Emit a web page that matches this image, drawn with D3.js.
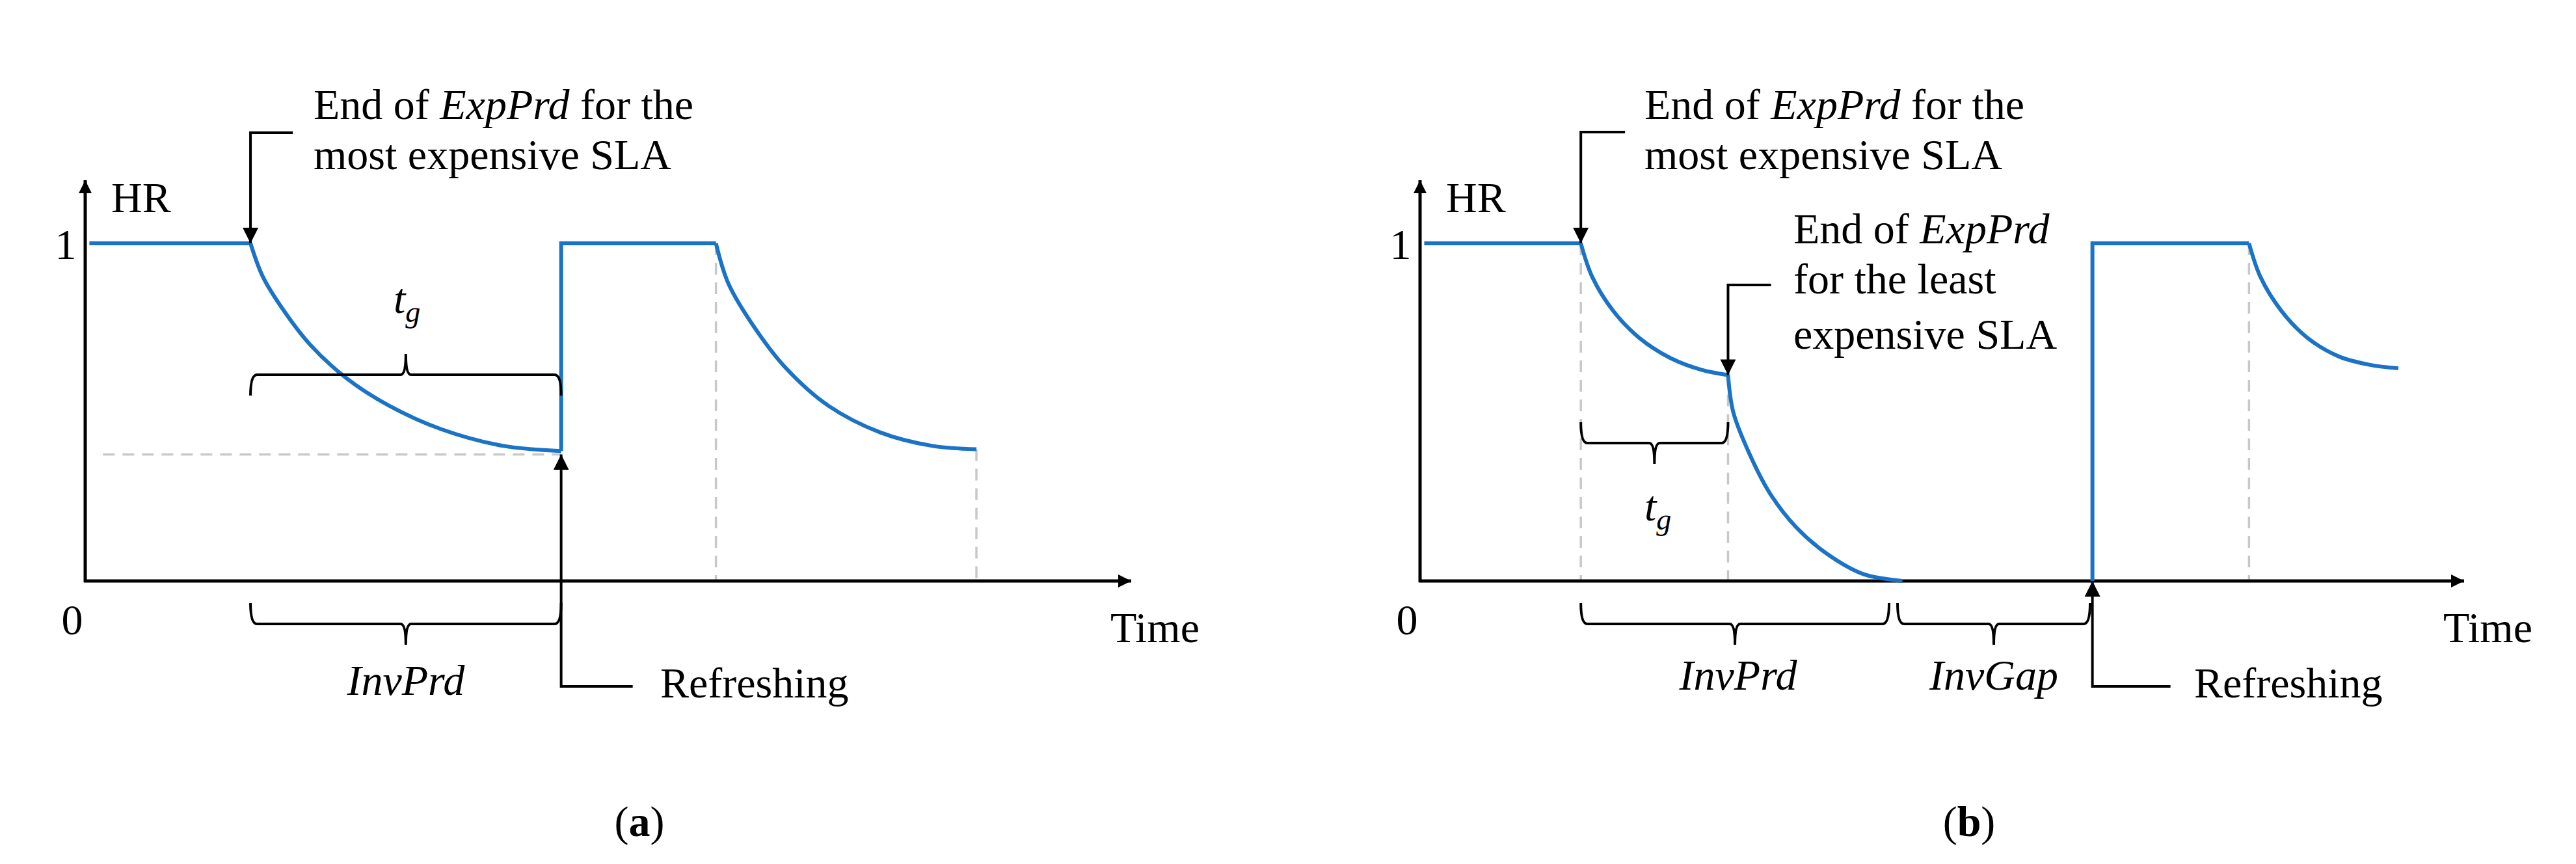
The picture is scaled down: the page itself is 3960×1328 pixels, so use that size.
<!DOCTYPE html>
<html><head><meta charset="utf-8">
<script src="https://cdn.jsdelivr.net/npm/d3@7"></script>
<style>body{margin:0;background:#fff}text{font-family:"Liberation Serif","Times New Roman",serif;fill:#000}</style>
</head><body><svg id="c" width="3960" height="1328"></svg>
<script>
// time in arbitrary units 0..100 per panel, HR 0..1
const segmentsA = [
  [[0.4, 1], [15.8, 1]],
  [[15.8, 1], [17, 0.9], [19, 0.8], [21.5, 0.7], [25, 0.6], [29, 0.52], [34, 0.45], [40, 0.4], [45.5, 0.385]],
  [[45.5, 0.385], [45.5, 1], [60.3, 1]],
  [[60.3, 1], [61.5, 0.88], [64, 0.75], [67, 0.63], [71, 0.52], [76, 0.44], [81, 0.4], [85.2, 0.39]]
];
const segmentsB = [
  [[0.4, 1], [15.4, 1]],
  [[15.4, 1], [16.5, 0.9], [18.5, 0.8], [21, 0.72], [24, 0.66], [27, 0.625], [29.5, 0.61]],
  [[29.5, 0.61], [30, 0.5], [31.5, 0.38], [33.5, 0.26], [36, 0.16], [39, 0.08], [42.5, 0.02], [46.2, 0]],
  [[64.4, 0], [64.4, 1], [79.4, 1]],
  [[79.4, 1], [80.5, 0.9], [82.5, 0.8], [85, 0.72], [88, 0.665], [91, 0.64], [93.7, 0.63]]
];
const guidesA = [[15.8, 0], [45.5, 0], [60.3, 1], [85.2, 0.39]];
const guidesB = [[15.4, 1], [29.5, 0.61], [79.4, 1]];

const svg = d3.select("#c");
const defs = svg.append("defs");
defs.append("marker").attr("id", "ah").attr("viewBox", "0 0 10 10").attr("refX", 10).attr("refY", 5)
  .attr("markerWidth", 4).attr("markerHeight", 4).attr("markerUnits", "strokeWidth").attr("orient", "auto")
  .append("path").attr("d", "M0,0L10,5L0,10z").attr("fill", "#000");
defs.append("marker").attr("id", "ah2").attr("viewBox", "0 0 10 10").attr("refX", 10).attr("refY", 5)
  .attr("markerWidth", 6).attr("markerHeight", 6).attr("markerUnits", "strokeWidth").attr("orient", "auto")
  .append("path").attr("d", "M0,0L10,5L0,10z").attr("fill", "#000");

const FS = 66;
function brace(g, x1, x2, y, dir) {
  // dir -1: ends point down (tip up), +1: ends point up (tip down)
  const e = 32 * (dir < 0 ? 1 : -1), m = (x1 + x2) / 2, t = -e;
  g.append("path").attr("fill", "none").attr("stroke", "#000").attr("stroke-width", 4)
    .attr("d", `M${x1},${y + e}Q${x1},${y} ${x1 + 10},${y}L${m - 8},${y}Q${m},${y} ${m},${y + t}Q${m},${y} ${m + 8},${y}L${x2 - 10},${y}Q${x2},${y} ${x2},${y + e}`);
}
function txt(g, x, y, parts, anchor) {
  const t = g.append("text").attr("x", x).attr("y", y).attr("font-size", FS).attr("text-anchor", anchor || "start");
  parts.forEach(p => t.append("tspan").attr("font-style", p[1] ? "italic" : "normal").text(p[0]));
  return t;
}

function panel(x0, x1, segs, guides, hDash, cfg) {
  const x = d3.scaleLinear().domain([0, 100]).range([x0, x1]);
  const y = d3.scaleLinear().domain([0, 1]).range([893, 374]);
  const g = svg.append("g");
  // dashed guides
  guides.forEach(d => g.append("line").attr("x1", x(d[0])).attr("x2", x(d[0])).attr("y1", y(d[1])).attr("y2", y(0))
    .attr("stroke", "#c8c8c8").attr("stroke-width", 3.5).attr("stroke-dasharray", "18,12"));
  if (hDash) g.append("line").attr("x1", x(hDash[0])).attr("x2", x(hDash[1])).attr("y1", y(hDash[2])).attr("y2", y(hDash[2]))
    .attr("stroke", "#c8c8c8").attr("stroke-width", 3.5).attr("stroke-dasharray", "18,12");
  // axes
  g.append("line").attr("x1", x(0)).attr("x2", x(0)).attr("y1", y(0) + 2).attr("y2", 277)
    .attr("stroke", "#000").attr("stroke-width", 5).attr("marker-end", "url(#ah)");
  g.append("line").attr("x1", x(0) - 2).attr("x2", x(100)).attr("y1", y(0)).attr("y2", y(0))
    .attr("stroke", "#000").attr("stroke-width", 5).attr("marker-end", "url(#ah)");
  // curves
  const line = d3.line().x(d => x(d[0])).y(d => y(d[1])).curve(d3.curveMonotoneY);
  segs.forEach(s => {
    const l = (s.length > 3 ? d3.line().x(d => x(d[0])).y(d => y(d[1])).curve(d3.curveCatmullRom) : d3.line().x(d => x(d[0])).y(d => y(d[1])));
    g.append("path").attr("d", l(s)).attr("fill", "none").attr("stroke", "#1a73c6").attr("stroke-width", 6);
  });
  txt(g, x(0) - 20, y(0) + 82, [["0"]], "middle");
  txt(g, x(0) - 30, y(1) + 24, [["1"]], "middle");
  txt(g, x(0) + 40, 326, [["HR"]]);
  txt(g, x(100) - 32, y(0) + 94, [["Time"]]);
  cfg(g, x, y);
}

panel(131, 1739, segmentsA, guidesA, [1.7, 45.5, 0.375], (g, x, y) => {
  g.append("path").attr("d", `M${x(15.8) + 65},204H${x(15.8)}V${y(1)}`).attr("fill", "none").attr("stroke", "#000").attr("stroke-width", 4).attr("marker-end", "url(#ah2)");
  txt(g, 482, 183, [["End of "], ["ExpPrd", 1], [" for the"]]);
  txt(g, 482, 260, [["most expensive SLA"]]);
  brace(g, x(15.8), x(45.5), 576, -1);
  const tg = txt(g, 605, 481, [["t", 1]]);
  tg.append("tspan").attr("font-style", "italic").attr("font-size", 46).attr("dy", 14).text("g");
  brace(g, x(15.8), x(45.5), 959, 1);
  txt(g, (x(15.8) + x(45.5)) / 2, 1068, [["InvPrd", 1]], "middle");
  g.append("path").attr("d", `M${x(45.5) + 110},1055H${x(45.5)}V${y(0.375)}`).attr("fill", "none").attr("stroke", "#000").attr("stroke-width", 4).attr("marker-end", "url(#ah2)");
  txt(g, 1015, 1072, [["Refreshing"]]);
  txt(g, 983, 1285, [["("], ["a"], [")"]], "middle").select("tspan:nth-child(2)").attr("font-weight", "bold");
});

panel(2183, 3788, segmentsB, guidesB, null, (g, x, y) => {
  g.append("path").attr("d", `M${x(15.4) + 68},203H${x(15.4)}V${y(1)}`).attr("fill", "none").attr("stroke", "#000").attr("stroke-width", 4).attr("marker-end", "url(#ah2)");
  txt(g, 2528, 183, [["End of "], ["ExpPrd", 1], [" for the"]]);
  txt(g, 2528, 260, [["most expensive SLA"]]);
  g.append("path").attr("d", `M${x(29.5) + 66},438H${x(29.5)}V${y(0.61)}`).attr("fill", "none").attr("stroke", "#000").attr("stroke-width", 4).attr("marker-end", "url(#ah2)");
  txt(g, 2757, 374, [["End of "], ["ExpPrd", 1]]);
  txt(g, 2757, 451, [["for the least"]]);
  txt(g, 2757, 536, [["expensive SLA"]]);
  brace(g, x(15.4), x(29.5), 681, 1);
  const tg = txt(g, 2528, 800, [["t", 1]]);
  tg.append("tspan").attr("font-style", "italic").attr("font-size", 46).attr("dy", 14).text("g");
  brace(g, x(15.4), 2904, 959, 1);
  brace(g, 2917, 3213, 959, 1);
  txt(g, 2672, 1060, [["InvPrd", 1]], "middle");
  txt(g, 3065, 1060, [["InvGap", 1]], "middle");
  g.append("path").attr("d", `M${x(64.4) + 120},1055H${x(64.4)}V${y(0)}`).attr("fill", "none").attr("stroke", "#000").attr("stroke-width", 4).attr("marker-end", "url(#ah2)");
  txt(g, 3373, 1072, [["Refreshing"]]);
  txt(g, 3027, 1285, [["("], ["b"], [")"]], "middle").select("tspan:nth-child(2)").attr("font-weight", "bold");
});
</script></body></html>
